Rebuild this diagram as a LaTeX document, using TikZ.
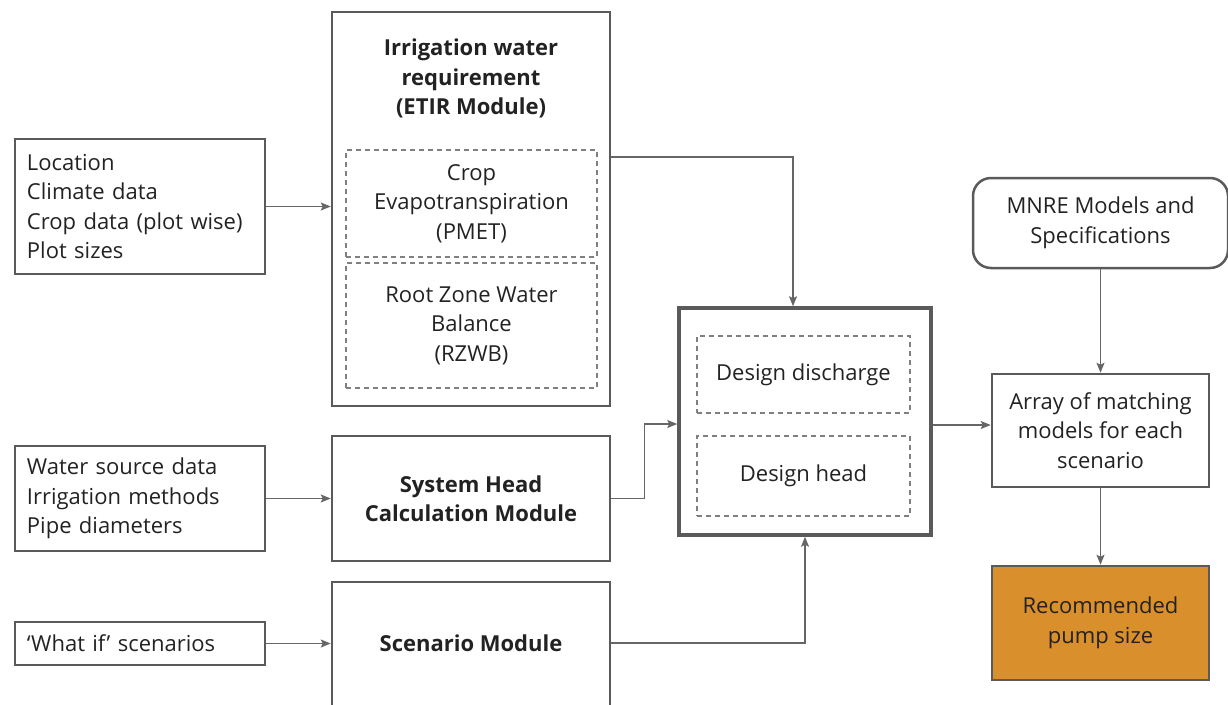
\documentclass[tikz,border=0pt]{standalone}
\usepackage{fontspec}
\setmainfont{Open Sans}
\usetikzlibrary{arrows.meta,calc}
\definecolor{bordc}{HTML}{5A5A5A}
\definecolor{arrc}{HTML}{666666}
\definecolor{dashc}{HTML}{808080}
\definecolor{txtc}{HTML}{222222}
\definecolor{orng}{HTML}{D98F2B}
\begin{document}
\begin{tikzpicture}[x=1pt,y=-1pt,
  every node/.style={text=txtc,font=\fontsize{22}{29.5}\selectfont},
  inbox/.style={draw=bordc,line width=2.5pt,inner sep=0pt,align=left,text width=226pt,minimum width=250pt},
  modbox/.style={draw=bordc,line width=2.5pt,inner sep=0pt,minimum width=278pt},
  dbox/.style={draw=dashc,line width=1.3pt,dash pattern=on 5pt off 4pt,inner sep=0pt,align=center},
  boldtxt/.style={font=\fontsize{22}{29.5}\selectfont\bfseries,align=center,inner sep=0pt},
  plainbox/.style={draw=bordc,line width=2.5pt,inner sep=0pt,align=center},
  arr/.style={draw=arrc,line width=1.4pt,-{Stealth[length=10pt,width=8pt,inset=2pt]}}
]
\useasboundingbox (0,0) rectangle (1228,704);
% inputs
\node[inbox,minimum height=135pt] (in1) at (140,206.5) {Location\\Climate data\\Crop data (plot wise)\\Plot sizes};
\node[inbox,minimum height=105pt] (in2) at (140,498.5) {Water source data\\Irrigation methods\\Pipe diameters};
\node[inbox,minimum height=43pt] (in3) at (140,643.5) {`What if' scenarios};
% ETIR module
\node[modbox,minimum height=394pt] (etir) at (471,209) {};
\node[boldtxt] (etirt) at (471,78.5) {Irrigation water\\requirement\\(ETIR Module)};
\node[dbox,minimum width=251pt,minimum height=107pt] (pmet) at (471.5,203.5) {Crop\\Evapotranspiration\\(PMET)};
\node[dbox,minimum width=251pt,minimum height=125pt] (rzwb) at (471.5,325.5) {Root Zone Water\\Balance\\(RZWB)};
% system head
\node[modbox,minimum height=125pt] (sys) at (471,498.5) {};
\node[boldtxt] (syst) at (471,498.5) {System Head\\Calculation Module};
% scenario
\node[modbox,minimum height=150pt] (scen) at (471,657) {};
\node[boldtxt] (scent) at (471,643) {Scenario Module};
% design
\node[draw=bordc,line width=3.5pt,minimum width=252pt,minimum height=227pt,inner sep=0pt] (design) at (805,421.5) {};
\node[dbox,minimum width=213pt,minimum height=77pt] (ddis) at (803.5,374.5) {Design discharge};
\node[dbox,minimum width=213pt,minimum height=80pt] (dhead) at (803.5,476) {Design head};
% right column
\node[plainbox,rounded corners=18pt,minimum width=255pt,minimum height=90pt] (mnre) at (1100.5,223) {MNRE Models and\\Specifications};
\node[plainbox,minimum width=217pt,minimum height=113pt] (array) at (1100.5,430.5) {Array of matching\\models for each\\scenario};
\node[plainbox,fill=orng,minimum width=217pt,minimum height=114pt] (rec) at (1100.5,623) {Recommended\\pump size};
% connectors
\draw[arr] (in1.east) -- (in1.east -| etir.west);
\draw[arr] (in2.east) -- (in2.east -| sys.west);
\draw[arr] (in3.east) -- (in3.east -| scen.west);
\coordinate (e1) at ($(etir.east)+(0,-52)$);
\draw[arr] (e1) -| ([xshift=-12pt]design.north);
\draw[arr] (sys.east) -- ++(33,0) |- ([yshift=-2.5pt]design.west);
\draw[arr] (scent.east -| scen.east) -| (design.south);
\draw[arr] ([yshift=-3.5pt]design.east) -- ([yshift=-3.5pt]design.east -| array.west);
\draw[arr] (mnre.south) -- (array.north);
\draw[arr] (array.south) -- (rec.north);
\end{tikzpicture}
\end{document}
